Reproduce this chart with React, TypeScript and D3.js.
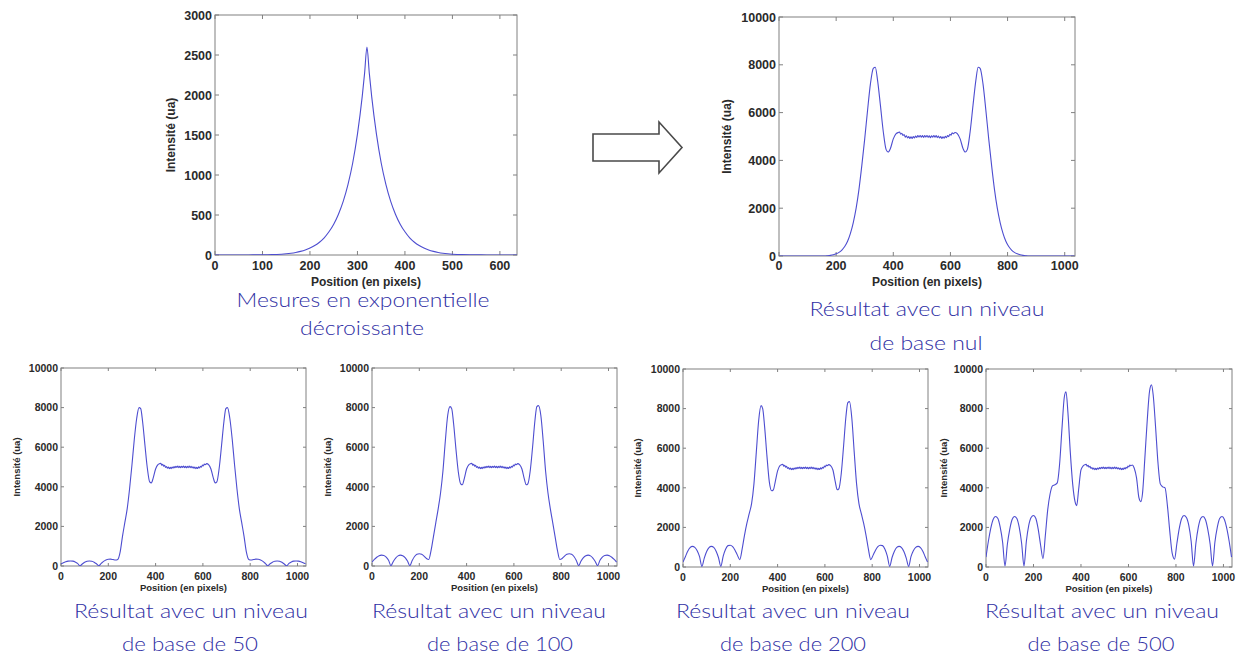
import React from 'react';
import * as d3 from 'd3';

// ---- Exponential-decay measurement profile (top left) ----
const expoPos = [0, 20, 40, 60, 80, 100, 120, 130, 140, 150, 160, 170, 180, 190, 200, 210, 220, 230, 240, 250, 260, 270, 280, 290, 300, 310, 315, 320, 325, 330, 340, 350, 360, 370, 380, 390, 400, 410, 420, 430, 440, 450, 460, 470, 480, 490, 500, 510, 520, 540, 560, 580, 600, 620, 636];
const expoVal = [0, 0, 0, 0, 1, 2, 5, 7, 10, 15, 22, 32, 45, 62, 86, 118, 160, 215, 290, 385, 510, 670, 880, 1150, 1510, 1980, 2270, 2600, 2270, 1980, 1510, 1150, 880, 670, 510, 385, 290, 215, 160, 118, 86, 62, 45, 32, 22, 15, 10, 7, 5, 2, 1, 0, 0, 0, 0];

// ---- Reconstructed profiles: sample positions (pixels) ----
const leftPos = [0, 10, 20, 30, 40, 50, 60, 70, 80, 90, 100, 110, 120, 130, 140, 150, 160, 170, 180, 190, 200, 210, 220, 230, 240, 250, 260, 270, 280, 290, 300, 310, 320, 330, 337, 345, 355, 365, 375, 382, 390, 400, 410, 418];
const plateauPos = [422, 426, 430, 434, 438, 442, 446, 450, 454, 458, 462, 466, 470, 474, 478, 482, 486, 490, 494, 498, 502, 506, 510, 514, 518, 522, 526, 530, 534, 538, 542, 546, 550, 554, 558, 562, 566, 570, 574, 578, 582, 586, 590, 594, 598, 602, 606, 610];
const rightPos = [616, 624, 634, 644, 652, 659, 669, 679, 689, 697, 704, 714, 724, 734, 744, 754, 764, 774, 784, 794, 804, 814, 824, 834, 844, 854, 864, 874, 884, 894, 904, 914, 924, 934, 944, 954, 964, 974, 984, 994, 1004, 1014, 1024, 1034];

// Central plateau (common to every reconstruction), with its fine ripple
const plateauVal = [5185, 5095, 5135, 5040, 5085, 4975, 5025, 4940, 4995, 4920, 4985, 4920, 5000, 4940, 5020, 4960, 5040, 4975, 5045, 4970, 5035, 4965, 5040, 4975, 5045, 4965, 5030, 4955, 5030, 4970, 5045, 4970, 5035, 4955, 5015, 4935, 4995, 4920, 4985, 4925, 5005, 4950, 5035, 4995, 5095, 5055, 5155, 5115];

// base level: none
const nulLeft = [0, 0, 0, 0, 0, 0, 0, 0, 0, 0, 0, 0, 0, 0, 0, 0, 0, 10, 25, 50, 90, 150, 250, 400, 620, 950, 1400, 2000, 2800, 3800, 4900, 6100, 7200, 7850, 7900, 7350, 6300, 5200, 4450, 4350, 4500, 4900, 5120, 5170];
const nulRight = [5170, 5120, 4900, 4500, 4350, 4450, 5200, 6300, 7350, 7900, 7850, 7200, 6100, 4900, 3800, 2800, 2000, 1400, 950, 620, 400, 250, 150, 90, 50, 25, 10, 0, 0, 0, 0, 0, 0, 0, 0, 0, 0, 0, 0, 0, 0, 0, 0, 0];

// base level: 50
const b50Left = [110, 170, 215, 245, 255, 245, 205, 130, 10, 100, 185, 235, 255, 240, 195, 115, 10, 130, 235, 305, 340, 345, 325, 300, 330, 700, 1500, 2200, 2900, 3900, 5100, 6400, 7450, 8000, 7950, 7300, 6100, 4950, 4250, 4200, 4450, 4900, 5120, 5170];
const b50Right = [5170, 5120, 4900, 4450, 4200, 4250, 4950, 6100, 7300, 7950, 8000, 7450, 6400, 5100, 3900, 2900, 2200, 1500, 700, 330, 300, 325, 345, 340, 305, 235, 130, 10, 115, 195, 240, 255, 235, 185, 100, 10, 130, 205, 245, 255, 245, 215, 170, 110];

// base level: 100
const b100Left = [200, 330, 440, 520, 550, 530, 450, 290, 20, 230, 400, 510, 550, 520, 420, 250, 20, 280, 480, 590, 620, 590, 500, 380, 330, 800, 1500, 2200, 2900, 3700, 4800, 6300, 7600, 8050, 7950, 7200, 5900, 4750, 4150, 4100, 4400, 4900, 5120, 5170];
const b100Right = [5170, 5120, 4900, 4400, 4100, 4150, 4800, 6000, 7350, 8050, 8100, 7600, 6300, 4800, 3700, 2900, 2200, 1500, 800, 330, 380, 500, 590, 620, 590, 480, 280, 20, 250, 420, 520, 550, 510, 400, 230, 20, 290, 450, 530, 550, 520, 440, 330, 200];

// base level: 200
const b200Left = [250, 520, 800, 980, 1040, 990, 820, 520, 30, 450, 780, 980, 1040, 990, 800, 480, 30, 550, 900, 1080, 1100, 1030, 850, 600, 370, 900, 1600, 2200, 2700, 3200, 4200, 5800, 7400, 8150, 8000, 7100, 5600, 4300, 3850, 3900, 4300, 4850, 5120, 5170];
const b200Right = [5170, 5120, 4900, 4300, 3900, 3950, 4700, 6100, 7600, 8300, 8350, 7500, 5800, 4200, 3200, 2700, 2200, 1600, 900, 370, 600, 850, 1030, 1100, 1080, 900, 550, 30, 480, 800, 990, 1040, 980, 780, 450, 30, 520, 820, 990, 1040, 980, 800, 520, 250];

// base level: 500
const b500Left = [500, 1300, 1950, 2400, 2550, 2450, 2000, 1250, 50, 1150, 1900, 2400, 2550, 2450, 2000, 1200, 50, 1300, 2100, 2500, 2600, 2450, 1900, 1100, 420, 1600, 2900, 3700, 4100, 4150, 4250, 5200, 7000, 8600, 8850, 7800, 5800, 4200, 3300, 3100, 3900, 4900, 5120, 5170];
const b500Right = [5150, 5000, 4500, 3500, 3300, 3700, 5500, 7400, 8900, 9200, 8700, 7100, 5300, 4200, 4050, 4000, 3100, 1800, 700, 400, 1200, 1950, 2450, 2600, 2500, 2100, 1300, 50, 1200, 2000, 2450, 2550, 2400, 1900, 1150, 50, 1250, 2000, 2450, 2550, 2400, 1950, 1300, 500];

const ticksExpoX = [0, 100, 200, 300, 400, 500, 600];
const ticksExpoY = [0, 500, 1000, 1500, 2000, 2500, 3000];
const ticksResX = [0, 200, 400, 600, 800, 1000];
const ticksResY = [0, 2000, 4000, 6000, 8000, 10000];

const X_LABEL = 'Position (en pixels)';
const Y_LABEL = 'Intensité (ua)';

// Assemble a reconstructed profile from its flank values and the shared plateau
const resPos = [...leftPos, ...plateauPos, ...rightPos];
const profile = (left: number[], right: number[]) => [...left, ...plateauVal, ...right];

type Caption = { text: string; x: number; y: number; len?: number };

type PanelSpec = {
  key: string;
  x0: number; y0: number; x1: number; y1: number;
  xMax: number; yMax: number;
  xTicks: number[]; yTicks: number[];
  tickFont: number; labelFont: number;
  yLabelX: number; tickLabelY: number; xLabelY: number; tickLen: number;
  pos: number[]; val: number[];
  captions: Caption[];
};

const panels: PanelSpec[] = [
  {
    key: 'expo', x0: 215, y0: 15, x1: 517, y1: 255, xMax: 636, yMax: 3000,
    xTicks: ticksExpoX, yTicks: ticksExpoY, tickFont: 12.5, labelFont: 12,
    yLabelX: 171, tickLabelY: 269.5, xLabelY: 285.5, tickLen: 4,
    pos: expoPos, val: expoVal,
    captions: [
      { text: 'Mesures en exponentielle', x: 363, y: 306.5, len: 253 },
      { text: 'décroissante', x: 362, y: 335, len: 124 },
    ],
  },
  {
    key: 'nul', x0: 779, y0: 17, x1: 1075, y1: 256, xMax: 1036, yMax: 10000,
    xTicks: ticksResX, yTicks: ticksResY, tickFont: 12.5, labelFont: 12,
    yLabelX: 727, tickLabelY: 270, xLabelY: 286, tickLen: 4,
    pos: resPos, val: profile(nulLeft, nulRight),
    captions: [
      { text: 'Résultat avec un niveau', x: 927, y: 316, len: 235 },
      { text: 'de base nul', x: 926, y: 350, len: 113 },
    ],
  },
  {
    key: 'b50', x0: 61, y0: 368, x1: 306, y1: 566, xMax: 1036, yMax: 10000,
    xTicks: ticksResX, yTicks: ticksResY, tickFont: 10.5, labelFont: 9.5,
    yLabelX: 17, tickLabelY: 579.5, xLabelY: 591, tickLen: 3,
    pos: resPos, val: profile(b50Left, b50Right),
    captions: [
      { text: 'Résultat avec un niveau', x: 191, y: 618, len: 234 },
      { text: 'de base de 50', x: 190, y: 651, len: 136 },
    ],
  },
  {
    key: 'b100', x0: 372, y0: 368, x1: 617, y1: 566, xMax: 1036, yMax: 10000,
    xTicks: ticksResX, yTicks: ticksResY, tickFont: 10.5, labelFont: 9.5,
    yLabelX: 328, tickLabelY: 579.5, xLabelY: 591, tickLen: 3,
    pos: resPos, val: profile(b100Left, b100Right),
    captions: [
      { text: 'Résultat avec un niveau', x: 489, y: 618, len: 234 },
      { text: 'de base de 100', x: 500, y: 651, len: 146 },
    ],
  },
  {
    key: 'b200', x0: 683, y0: 369, x1: 928, y1: 567, xMax: 1036, yMax: 10000,
    xTicks: ticksResX, yTicks: ticksResY, tickFont: 10.5, labelFont: 9.5,
    yLabelX: 638, tickLabelY: 580.5, xLabelY: 592, tickLen: 3,
    pos: resPos, val: profile(b200Left, b200Right),
    captions: [
      { text: 'Résultat avec un niveau', x: 793, y: 618, len: 234 },
      { text: 'de base de 200', x: 793, y: 651, len: 146 },
    ],
  },
  {
    key: 'b500', x0: 986, y0: 369, x1: 1232, y1: 567, xMax: 1036, yMax: 10000,
    xTicks: ticksResX, yTicks: ticksResY, tickFont: 10.5, labelFont: 9.5,
    yLabelX: 944, tickLabelY: 580.5, xLabelY: 592, tickLen: 3,
    pos: resPos, val: profile(b500Left, b500Right),
    captions: [
      { text: 'Résultat avec un niveau', x: 1102, y: 618, len: 234 },
      { text: 'de base de 500', x: 1101, y: 651, len: 147 },
    ],
  },
];

const AXIS_FONT = '"Liberation Sans", Arial, Helvetica, sans-serif';
const CAPTION_FONT = 'Lato, "Open Sans", sans-serif';
const LINE_COLOR = '#4d4dd0';
const FRAME_COLOR = '#808080';
const TEXT_COLOR = '#2a2a2a';
const CAPTION_COLOR = '#2f2fa4';

function Panel({ p }: { p: PanelSpec }) {
  const x = d3.scaleLinear().domain([0, p.xMax]).range([p.x0, p.x1]);
  const y = d3.scaleLinear().domain([0, p.yMax]).range([p.y1, p.y0]);
  const pts: [number, number][] = p.pos.map((v, i) => [v, p.val[i]]);
  const line = d3
    .line<[number, number]>()
    .x((d) => x(d[0]))
    .y((d) => y(d[1]))
    .curve(d3.curveMonotoneX);
  const clipId = `clip-${p.key}`;
  return (
    <g>
      <defs>
        <clipPath id={clipId}>
          <rect x={p.x0} y={p.y0 - 2} width={p.x1 - p.x0} height={p.y1 - p.y0 + 2} />
        </clipPath>
      </defs>
      <rect x={p.x0} y={p.y0} width={p.x1 - p.x0} height={p.y1 - p.y0} fill="#fff" stroke={FRAME_COLOR} strokeWidth={1} />
      {p.xTicks.map((t) => (
        <g key={`xt${t}`}>
          <line x1={x(t)} x2={x(t)} y1={p.y1} y2={p.y1 - p.tickLen} stroke={FRAME_COLOR} />
          <line x1={x(t)} x2={x(t)} y1={p.y0} y2={p.y0 + p.tickLen} stroke={FRAME_COLOR} />
          <text x={x(t)} y={p.tickLabelY} textAnchor="middle" fontSize={p.tickFont} fontFamily={AXIS_FONT} fontWeight="bold" fill={TEXT_COLOR}>
            {t}
          </text>
        </g>
      ))}
      {p.yTicks.map((t) => (
        <g key={`yt${t}`}>
          <line x1={p.x0} x2={p.x0 + p.tickLen} y1={y(t)} y2={y(t)} stroke={FRAME_COLOR} />
          <line x1={p.x1} x2={p.x1 - p.tickLen} y1={y(t)} y2={y(t)} stroke={FRAME_COLOR} />
          <text x={p.x0 - 3} y={y(t)} dy="0.36em" textAnchor="end" fontSize={p.tickFont} fontFamily={AXIS_FONT} fontWeight="bold" fill={TEXT_COLOR}>
            {t}
          </text>
        </g>
      ))}
      <path d={line(pts) || ''} fill="none" stroke={LINE_COLOR} strokeWidth={1.1} clipPath={`url(#${clipId})`} />
      <text x={(p.x0 + p.x1) / 2} y={p.xLabelY} textAnchor="middle" fontSize={p.labelFont} fontFamily={AXIS_FONT} fontWeight="bold" fill={TEXT_COLOR}>
        {X_LABEL}
      </text>
      <text
        transform={`translate(${p.yLabelX},${(p.y0 + p.y1) / 2}) rotate(-90)`}
        dy="0.36em"
        textAnchor="middle"
        fontSize={p.labelFont}
        fontFamily={AXIS_FONT}
        fontWeight="bold"
        fill={TEXT_COLOR}
      >
        {Y_LABEL}
      </text>
      {p.captions.map((c) => (
        <text
          key={c.text}
          x={c.x}
          y={c.y}
          textAnchor="middle"
          fontSize={20}
          fontFamily={CAPTION_FONT}
          fontWeight={300}
          fill={CAPTION_COLOR}
          textLength={c.len}
          lengthAdjust="spacingAndGlyphs"
        >
          {c.text}
        </text>
      ))}
    </g>
  );
}

// Block arrow between the input profile and the reconstructed one
const arrowShape: [number, number][] = [
  [593, 134], [659, 134], [659, 122], [682, 147.5], [659, 173], [659, 161], [593, 161],
];

export default function App() {
  return (
    <svg
      width={1241}
      height={657}
      viewBox="0 0 1241 657"
      style={{ position: 'absolute', left: 0, top: 0, background: '#fff' }}
    >
      <rect x={0} y={0} width={1241} height={657} fill="#fff" />
      {panels.map((p) => (
        <Panel key={p.key} p={p} />
      ))}
      <polygon
        points={arrowShape.map((d) => d.join(',')).join(' ')}
        fill="#fff"
        stroke="#4a4a4a"
        strokeWidth={1.6}
        strokeLinejoin="miter"
      />
    </svg>
  );
}
